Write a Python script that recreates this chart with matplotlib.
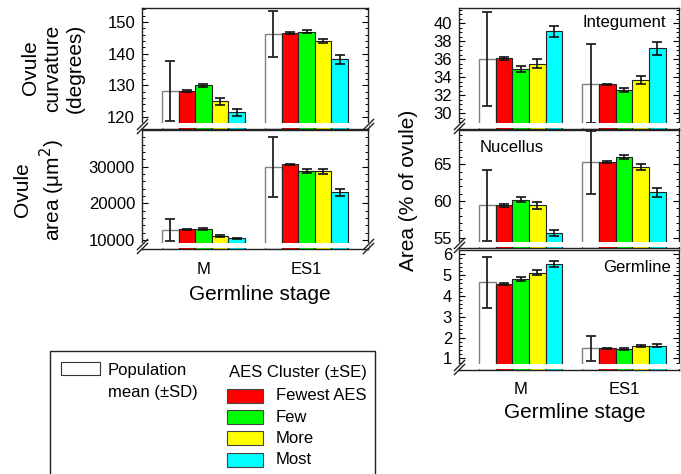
import matplotlib
matplotlib.use('Agg')

import matplotlib.pyplot as plt
from matplotlib.patches import Rectangle
from matplotlib.ticker import MultipleLocator

plt.rcParams['font.family'] = ['Liberation Sans', 'DejaVu Sans']

# data (M, ES1)
stages = ['M', 'ES1']
clusters = ['Fewest AES', 'Few', 'More', 'Most']
cluster_colors = ['#ff0000', '#00ff00', '#ffff00', '#00ffff']

curv_pop = [128.2, 146.3]
curv_pop_sd = [9.5, 7.3]
curv_mean = [[128.3, 130.0, 124.9, 121.5], [146.5, 146.9, 144.0, 138.2]]
curv_se = [[0.3, 0.5, 1.1, 1.1], [0.3, 0.4, 0.6, 1.4]]

area_pop = [12700, 30000]
area_pop_sd = [3100, 8200]
area_mean = [[12900, 13000, 11200, 10450], [30600, 28900, 28800, 23000]]
area_se = [[150, 250, 250, 200], [200, 500, 700, 1000]]

integ_pop = [36.0, 33.3]
integ_pop_sd = [5.2, 4.35]
integ_mean = [[36.1, 34.9, 35.5, 39.1], [33.2, 32.6, 33.7, 37.2]]
integ_se = [[0.15, 0.35, 0.5, 0.6], [0.1, 0.25, 0.45, 0.7]]

nuc_pop = [59.4, 65.3]
nuc_pop_sd = [4.9, 4.3]
nuc_mean = [[59.4, 60.2, 59.4, 55.7], [65.35, 66.0, 64.7, 61.2]]
nuc_se = [[0.15, 0.35, 0.45, 0.4], [0.15, 0.3, 0.4, 0.6]]

germ_pop = [4.65, 1.48]
germ_pop_sd = [1.23, 0.59]
germ_mean = [[4.57, 4.81, 5.12, 5.52], [1.48, 1.45, 1.6, 1.6]]
germ_se = [[0.03, 0.08, 0.1, 0.15], [0.02, 0.03, 0.05, 0.07]]

W, H = 681, 474
GROUP_STEP = 6.2


def rect(x0, y0, x1, y1):
    # pixel box -> figure fraction [left, bottom, width, height]
    return [x0 / W, 1 - y1 / H, (x1 - x0) / W, (y1 - y0) / H]


def draw_panel(ax, pop, pop_sd, means, ses, ylim, major, minor, xlim,
               right_breaks=False, show_xlabels=False):
    base = ylim[0]
    for g in range(len(stages)):
        x0 = g * GROUP_STEP
        ax.bar(x0, pop[g] - base, bottom=base, width=1, color='white',
               edgecolor='#808080', linewidth=1, zorder=2)
        ax.errorbar(x0, pop[g], yerr=pop_sd[g], fmt='none', ecolor='#222222',
                    elinewidth=1.3, capsize=3.5, capthick=1.3, zorder=3)
        for k in range(len(clusters)):
            ax.bar(x0 + 1 + k, means[g][k] - base, bottom=base, width=1,
                   color=cluster_colors[k], edgecolor='#222222', linewidth=0.8,
                   zorder=2)
            ax.errorbar(x0 + 1 + k, means[g][k], yerr=ses[g][k], fmt='none',
                        ecolor='#111111', elinewidth=1.2, capsize=3.5,
                        capthick=1.2, zorder=3)
    ax.set_xlim(*xlim)
    ax.set_ylim(*ylim)
    ax.yaxis.set_major_locator(MultipleLocator(major))
    ax.yaxis.set_minor_locator(MultipleLocator(minor))
    ax.set_xticks([2, 2 + GROUP_STEP])
    if show_xlabels:
        ax.set_xticklabels(stages)
    else:
        ax.set_xticklabels([])
    ax.tick_params(axis='y', which='major', direction='in', length=4.5,
                   width=0.8, labelsize=12, pad=5, right=True)
    ax.tick_params(axis='y', which='minor', direction='in', length=2.5,
                   width=0.7, right=True)
    ax.tick_params(axis='x', direction='in', length=2.5, width=0.8,
                   labelsize=12, pad=9)
    for s in ax.spines.values():
        s.set_linewidth(1.0)
        s.set_color('#222222')

    # axis break: white gap above the bottom spine plus "//" marks
    ax.add_patch(Rectangle((-0.006, 0.012), 1.012, 0.036, transform=ax.transAxes,
                           facecolor='white', edgecolor='none', zorder=4,
                           clip_on=False))
    xs = [0, 1] if right_breaks else [0]
    for xb in xs:
        for dy in (0.012, 0.045):
            ax.plot([xb], [dy], marker=[(-1, -1), (1, 1)], markersize=8,
                    markeredgewidth=1.0, color='#222222',
                    transform=ax.transAxes, clip_on=False, zorder=5)


fig = plt.figure(figsize=(W / 100, H / 100), dpi=100)

xlim_left = (-1.7, 11.9)
xlim_right = (-1.7, 11.5)

ax_curv = fig.add_axes(rect(142, 8, 368, 129))
draw_panel(ax_curv, curv_pop, curv_pop_sd, curv_mean, curv_se,
           (116.2, 154.4), 10, 2, xlim_left, right_breaks=True)

ax_area = fig.add_axes(rect(142, 130, 368, 249))
draw_panel(ax_area, area_pop, area_pop_sd, area_mean, area_se,
           (7550, 40000), 10000, 2000, xlim_left, right_breaks=True,
           show_xlabels=True)
ax_area.set_yticks([10000, 20000, 30000])

ax_integ = fig.add_axes(rect(459, 8, 679, 129))
draw_panel(ax_integ, integ_pop, integ_pop_sd, integ_mean, integ_se,
           (28.25, 41.7), 2, 0.5, xlim_right)

ax_nuc = fig.add_axes(rect(459, 130, 679, 248))
draw_panel(ax_nuc, nuc_pop, nuc_pop_sd, nuc_mean, nuc_se,
           (53.6, 69.7), 5, 1, xlim_right)

ax_germ = fig.add_axes(rect(459, 250, 679, 370))
draw_panel(ax_germ, germ_pop, germ_pop_sd, germ_mean, germ_se,
           (0.44, 6.2), 1, 0.2, xlim_right, show_xlabels=True)

# panel labels
ax_integ.text(0.75, 0.88, 'Integument', transform=ax_integ.transAxes,
              ha='center', va='center', fontsize=12)
ax_nuc.text(0.24, 0.85, 'Nucellus', transform=ax_nuc.transAxes,
            ha='center', va='center', fontsize=12)
ax_germ.text(0.81, 0.85, 'Germline', transform=ax_germ.transAxes,
             ha='center', va='center', fontsize=12)

# axis titles
fig.text(53 / W, 1 - 68 / H, 'Ovule\ncurvature\n(degrees)', rotation=90,
         ha='center', va='center', fontsize=15, linespacing=1.25)
fig.text(40 / W, 1 - 190 / H, 'Ovule\narea (\u03bcm$^2$)',
         rotation=90, ha='center', va='center', fontsize=15, linespacing=1.25)
fig.text(408 / W, 1 - 190 / H, 'Area (% of ovule)', rotation=90,
         ha='center', va='center', fontsize=15)
fig.text(260 / W, 1 - 295 / H, 'Germline stage', ha='center', va='center',
         fontsize=15)
fig.text(575 / W, 1 - 413 / H, 'Germline stage', ha='center', va='center',
         fontsize=15)

# legend box
fig.add_artist(Rectangle((50 / W, 1 - 480 / H), 325 / W, 129 / H,
                         transform=fig.transFigure, facecolor='white',
                         edgecolor='#222222', linewidth=1.0))
fig.add_artist(Rectangle((61 / W, 1 - 375 / H), 39 / W, 13 / H,
                         transform=fig.transFigure, facecolor='white',
                         edgecolor='#333333', linewidth=0.8))
fig.text(108 / W, 1 - 370 / H, 'Population', ha='left', va='center',
         fontsize=12)
fig.text(108 / W, 1 - 393 / H, 'mean (\u00b1SD)', ha='left', va='center',
         fontsize=12)
fig.text(229 / W, 1 - 373 / H, 'AES Cluster (\u00b1SE)', ha='left',
         va='center', fontsize=12)
for k, name in enumerate(clusters):
    yc = 396 + 21.2 * k
    fig.add_artist(Rectangle((227 / W, 1 - (yc + 7) / H), 36 / W, 14 / H,
                             transform=fig.transFigure,
                             facecolor=cluster_colors[k], edgecolor='#444444',
                             linewidth=0.8))
    fig.text(276 / W, 1 - yc / H, name, ha='left', va='center', fontsize=12)

fig.savefig('out.png', dpi=100)
plt.close(fig)
